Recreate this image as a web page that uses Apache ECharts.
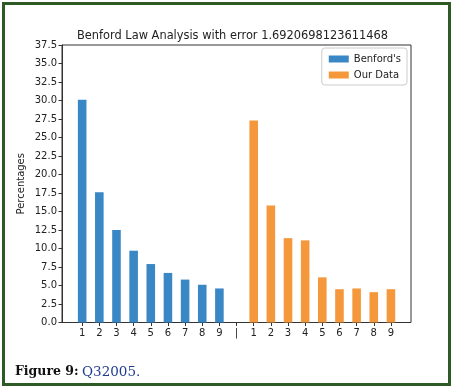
<!DOCTYPE html>
<html><head><meta charset="utf-8">
<script src="https://cdn.jsdelivr.net/npm/echarts@6/dist/echarts.min.js"></script>
<style>html,body{margin:0;padding:0;background:#fff}#c{width:453px;height:389px}</style>
</head><body><div id="c"></div>
<script>
const categories = ['1','2','3','4','5','6','7','8','9','|','1','2','3','4','5','6','7','8','9'];
const benford = [30.1, 17.6, 12.5, 9.7, 7.9, 6.7, 5.8, 5.1, 4.6];
const ourData = [27.3, 15.8, 11.4, 11.1, 6.1, 4.5, 4.6, 4.1, 4.5];
const yTicks = {min: 0, max: 37.5, step: 2.5};
const titleText = 'Benford Law Analysis with error 1.6920698123611468';

const benfordSeries = categories.map((c, i) => i < 9 ? benford[i] : '-');
const ourSeries = categories.map((c, i) => i > 9 ? ourData[i - 10] : '-');

const chart = echarts.init(document.getElementById('c'));
const font = 'DejaVu Sans';
chart.setOption({
  animation: false,
  title: {text: titleText, left: 72, top: 26,
    textStyle: {fontFamily: font, fontSize: 11.4, fontWeight: 'normal', color: '#222'}},
  legend: {right: 46, top: 48, orient: 'vertical', itemWidth: 20, itemHeight: 7, itemGap: 6,
    borderColor: '#ccc', borderWidth: 1, borderRadius: 3, padding: [6, 6, 5, 7],
    textStyle: {fontFamily: font, fontSize: 10, color: '#222'},
    data: ["Benford's", 'Our Data'], icon: 'rect'},
  grid: [
    {left: 62, right: 42, top: 45, bottom: 66.5, show: true, borderColor: '#333', borderWidth: 1, backgroundColor: 'transparent'},
    {left: 73.6, width: 325.9, top: 45, bottom: 66.5}
  ],
  xAxis: [
    {gridIndex: 0, type: 'value', min: 0, max: 1, show: false},
    {gridIndex: 1, type: 'category', data: categories, boundaryGap: true,
      axisLine: {show: false},
      axisTick: {show: true, alignWithLabel: true, length: 3.5, lineStyle: {color: '#333'}},
      axisLabel: {fontFamily: font, fontSize: 10, color: '#222', margin: 6, interval: 0}}
  ],
  yAxis: [
    {gridIndex: 0, type: 'value', min: yTicks.min, max: yTicks.max, interval: yTicks.step,
      name: 'Percentages', nameLocation: 'middle', nameGap: 36, nameMoveOverlap: false,
      nameTextStyle: {fontFamily: font, fontSize: 10, color: '#222'},
      axisLine: {show: true, lineStyle: {color: '#333'}},
      axisTick: {show: true, length: 3.5, lineStyle: {color: '#333'}},
      splitLine: {show: false},
      axisLabel: {fontFamily: font, fontSize: 10, color: '#222', margin: 5, formatter: v => v.toFixed(1)}},
    {gridIndex: 1, type: 'value', min: yTicks.min, max: yTicks.max, show: false, splitLine: {show: false}}
  ],
  series: [
    {name: "Benford's", type: 'bar', xAxisIndex: 1, yAxisIndex: 1, data: benfordSeries,
      barWidth: '50%', barGap: '-100%', itemStyle: {color: '#3a87c5'}},
    {name: 'Our Data', type: 'bar', xAxisIndex: 1, yAxisIndex: 1, data: ourSeries,
      barWidth: '50%', barGap: '-100%', itemStyle: {color: '#f4983b'}}
  ],
  graphic: [
    {type: 'rect', shape: {x: 3.5, y: 3.5, width: 446, height: 381}, style: {fill: 'none', stroke: '#2e5a25', lineWidth: 3}},
    {type: 'text', left: 15, top: 365, style: {
      text: '{b|Figure 9:} {q|Q32005.}',
      rich: {b: {fontFamily: 'DejaVu Serif', fontWeight: 'bold', fontSize: 12.5, fill: '#111'},
             q: {fontFamily: 'DejaVu Serif', fontSize: 13.5, fill: '#1f3a93'}}}}
  ]
});
</script></body></html>
